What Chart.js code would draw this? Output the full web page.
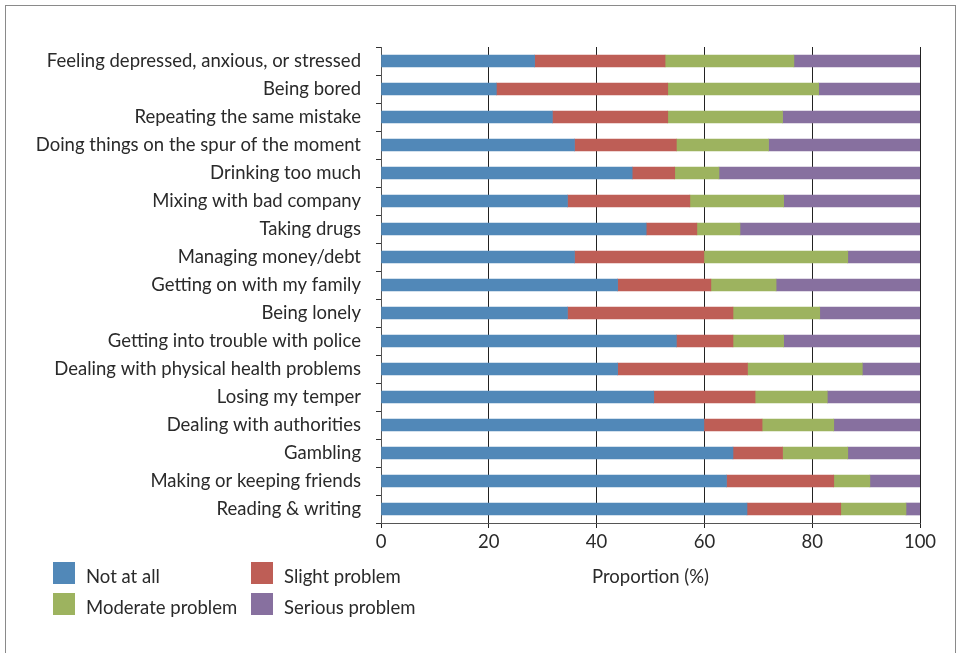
<!DOCTYPE html>
<html>
<head>
<meta charset="utf-8">
<script src="https://cdn.jsdelivr.net/npm/chart.js@4"></script>
<style>
  body { margin: 0; background: #fff; font-family: Lato, sans-serif; }
  #wrap { position: relative; width: 961px; height: 653px; overflow: hidden; }
  #frame { position: absolute; left: 5px; top: 5px; width: 949px; height: 700px; border: 1px solid #8a8a8a; }
  canvas { position: absolute; left: 0; top: 0; }
  .key { position: absolute; font-size: 18.5px; color: #2a2a2a; line-height: 22px; }
  .key span { position: absolute; width: 22px; height: 22px; left: 0; top: 0; }
  .key b { position: absolute; left: 33px; top: 3px; font-weight: normal; white-space: nowrap; }
</style>
</head>
<body>
<div id="wrap">
  <div id="frame"></div>
  <canvas id="chart" width="961" height="653"></canvas>
  <div id="legend"></div>
</div>
<script>
const categories = [
	'Feeling depressed, anxious, or stressed',
	'Being bored',
	'Repeating the same mistake',
	'Doing things on the spur of the moment',
	'Drinking too much',
	'Mixing with bad company',
	'Taking drugs',
	'Managing money/debt',
	'Getting on with my family',
	'Being lonely',
	'Getting into trouble with police',
	'Dealing with physical health problems',
	'Losing my temper',
	'Dealing with authorities',
	'Gambling',
	'Making or keeping friends',
	'Reading & writing'
]
const notAtAll = [28.5, 21.4, 31.8, 35.9, 46.6, 34.6, 49.2, 35.9, 43.9, 34.6, 54.8, 43.9, 50.6, 59.9, 65.3, 64.1, 67.9]
const slight = [24.2, 31.8, 21.4, 18.9, 7.9, 22.7, 9.4, 24.0, 17.3, 30.7, 10.5, 24.1, 18.8, 10.8, 9.2, 19.9, 17.4]
const moderate = [23.9, 28.0, 21.3, 17.1, 8.2, 17.4, 8.0, 26.7, 12.1, 16.1, 9.4, 21.3, 13.4, 13.3, 12.1, 6.7, 12.1]
const serious = [23.4, 18.8, 25.5, 28.1, 37.3, 25.3, 33.4, 13.4, 26.7, 18.6, 25.3, 10.7, 17.2, 16.0, 13.4, 9.3, 2.6]
const xTicks = [0, 20, 40, 60, 80, 100]

const seriesNames = ['Not at all', 'Slight problem', 'Moderate problem', 'Serious problem']
const seriesColors = ['#5188b8', '#be5e56', '#9db35f', '#87709f']
const seriesData = [notAtAll, slight, moderate, serious]

const font = { family: 'Lato, sans-serif', size: 18.5 }

const datasets = seriesNames.map((name, i) => ({
	label: name,
	data: seriesData[i],
	backgroundColor: seriesColors[i],
	borderWidth: 0,
	barThickness: 12
}))

new Chart(document.getElementById('chart'), {
	type: 'bar',
	data: { labels: categories, datasets: datasets },
	options: {
		indexAxis: 'y',
		responsive: false,
		animation: false,
		layout: { padding: { left: 0, top: 47, right: 41, bottom: 60 } },
		plugins: { legend: { display: false }, tooltip: { enabled: false } },
		scales: {
			x: {
				stacked: true,
				min: 0,
				max: 100,
				afterBuildTicks: (scale) => { scale.ticks = xTicks.map(v => ({ value: v })) },
				afterFit: (scale) => { scale.height = 70 },
				grid: { color: '#222', lineWidth: 1, tickLength: 5 },
				border: { color: '#555', width: 1 },
				ticks: { color: '#2a2a2a', font: font, padding: 3 },
				title: { display: true, text: 'Proportion (%)', color: '#2a2a2a', font: font, padding: { top: 0, bottom: 5 } }
			},
			y: {
				stacked: true,
				afterFit: (scale) => { scale.width = 381 },
				grid: { offset: true, drawOnChartArea: false, drawTicks: true, tickLength: 5, color: '#333' },
				border: { color: '#555', width: 1 },
				ticks: { color: '#2a2a2a', font: font, padding: 15, autoSkip: false }
			}
		}
	}
})

// legend in two rows of two, bottom left
const legendPos = [[53, 562], [251, 562], [53, 593], [251, 593]]
const legend = document.getElementById('legend')
seriesNames.forEach((name, i) => {
	const item = document.createElement('div')
	item.className = 'key'
	item.style.left = legendPos[i][0] + 'px'
	item.style.top = legendPos[i][1] + 'px'
	item.innerHTML = '<span style="background:' + seriesColors[i] + '"></span><b>' + name + '</b>'
	legend.appendChild(item)
})
</script>
</body>
</html>
